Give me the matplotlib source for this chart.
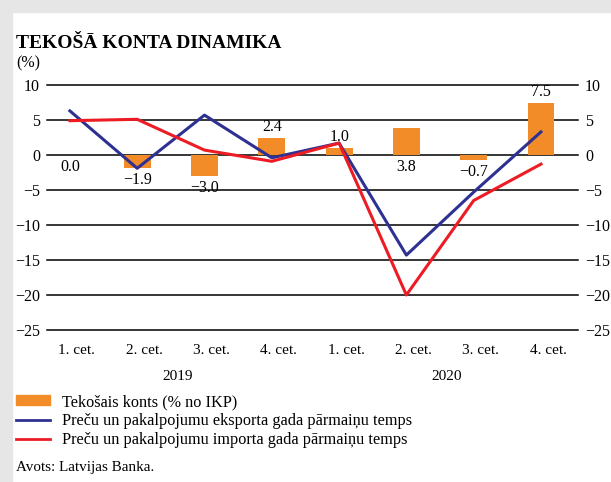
import numpy as np
import matplotlib.pyplot as plt
import matplotlib.patches as mpatches
import matplotlib.transforms as mtransforms
from matplotlib.lines import Line2D

plt.rcParams['font.family'] = ['Liberation Serif', 'DejaVu Serif']

# data
quarters = ['1. cet.', '2. cet.', '3. cet.', '4. cet.', '1. cet.', '2. cet.', '3. cet.', '4. cet.']
years = ['2019', '2020']
current_account = [0.0, -1.9, -3.0, 2.4, 1.0, 3.8, -0.7, 7.5]
export_growth = [6.3, -1.9, 5.7, -0.4, 1.7, -14.3, -5.3, 3.3]
import_growth = [4.9, 5.1, 0.7, -0.9, 1.7, -20.0, -6.5, -1.3]
# where each bar label goes: 'up' above the bar end, 'down' below it / below zero
label_side = ['down', 'down', 'down', 'up', 'up', 'down', 'down', 'up']

orange = '#F28C28'
blue = '#2E3192'
red = '#ED1C24'

W, H = 611, 482
fig = plt.figure(figsize=(W / 100, H / 100), dpi=100)

# grey frame on top and left
fig.patches.append(mpatches.Rectangle((0, 1 - 12 / H), 1, 12 / H, transform=fig.transFigure,
                                      color='#E6E6E6', zorder=0))
fig.patches.append(mpatches.Rectangle((0, 0), 12 / W, 1, transform=fig.transFigure,
                                      color='#E6E6E6', zorder=0))

left, right, top, bottom = 47, 578, 85, 330
ax = fig.add_axes([left / W, 1 - bottom / H, (right - left) / W, (bottom - top) / H])
x = np.arange(len(quarters))

ax.set_xlim(-0.34, 7.55)
ax.set_ylim(-25, 10)
yt = np.arange(-25, 11, 5)
for v in yt:
    ax.axhline(v, color='black', lw=1.1, clip_on=False, zorder=0)

ax.bar(x, current_account, width=0.4, color=orange, zorder=2)
ax.plot(x, export_growth, color=blue, lw=2.2, zorder=3)
ax.plot(x, import_growth, color=red, lw=2.2, zorder=3)

for xi, v, side in zip(x, current_account, label_side):
    txt = f'{v:.1f}'.replace('-', '\u2212')
    if side == 'up':
        ax.annotate(txt, (xi, max(v, 0)), xytext=(0, 2),
                    textcoords='offset points', ha='center', va='bottom', fontsize=11.5)
    else:
        ax.annotate(txt, (xi, min(v, 0)), xytext=(0, -3),
                    textcoords='offset points', ha='center', va='top', fontsize=11.5)

for s in ax.spines.values():
    s.set_visible(False)
ax.set_yticks(yt)
ax.set_yticklabels([str(v).replace('-', '\u2212') for v in yt])
ax.tick_params(axis='y', length=0, pad=5, labelsize=11.5, labelleft=True, labelright=True)
ax.set_xticks(x)
ax.set_xticklabels(quarters)
ax.tick_params(axis='x', length=0, pad=10, labelsize=11)

# category labels sit a little right of the bar centres in the reference
shift = mtransforms.ScaledTranslation(7 / 100, 0, fig.dpi_scale_trans)
for lab in ax.get_xticklabels():
    lab.set_transform(lab.get_transform() + shift)

trans = mtransforms.blended_transform_factory(ax.transData, ax.transAxes) + shift
ax.text(1.5, -0.165, years[0], transform=trans, ha='center', va='top', fontsize=11)
ax.text(5.5, -0.165, years[1], transform=trans, ha='center', va='top', fontsize=11)

fig.text(16 / W, 1 - 43 / H, 'TEKOŠĀ KONTA DINAMIKA', fontsize=14, fontweight='bold',
         va='center', ha='left')
fig.text(16 / W, 1 - 63 / H, '(%)', fontsize=11.5, va='center', ha='left')

handles = [mpatches.Patch(color=orange),
           Line2D([], [], color=blue, lw=2),
           Line2D([], [], color=red, lw=2)]
labels = ['Tekošais konts (% no IKP)',
          'Preču un pakalpojumu eksporta gada pārmaiņu temps',
          'Preču un pakalpojumu importa gada pārmaiņu temps']
fig.legend(handles, labels, loc='upper left', bbox_to_anchor=(16 / W, 1 - 394 / H),
           frameon=False, fontsize=11.7, handlelength=2.1, handleheight=0.55,
           handletextpad=0.7, labelspacing=0.18, borderpad=0, borderaxespad=0)

fig.text(16 / W, 1 - 467 / H, 'Avots: Latvijas Banka.', fontsize=10.9, va='center', ha='left')

fig.savefig('out.png', dpi=100)
